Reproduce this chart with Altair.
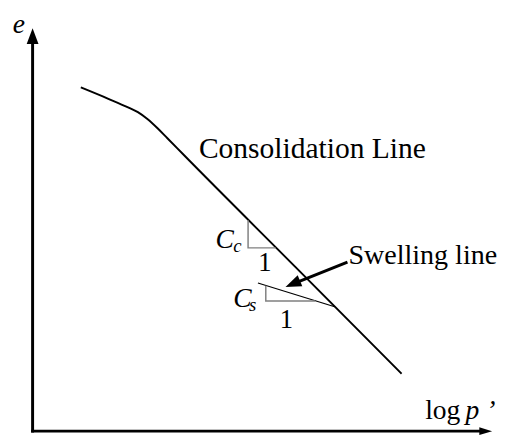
import altair as alt
import pandas as pd

# Schematic e - log p' diagram; values in diagram units
curve_x = [82, 110, 130, 140, 150, 160, 170, 187, 300, 408]
curve_y = [83, 95, 104, 109, 116.5, 126, 136.5, 154.5, 272, 384.5]
swell_x = [262, 340]
swell_y = [289, 314]
cc_tri_x = [252, 252, 280]
cc_tri_y = [223, 252, 252]
cs_tri_x = [270, 270, 320]
cs_tri_y = [292, 308, 308]
arrow_x = [353, 299]
arrow_y = [267, 289.5]
yaxis_x = [33, 33]
yaxis_y = [446.5, 34]
xaxis_x = [31.5, 489]
xaxis_y = [445, 445]

FONT = "Liberation Serif"

X = alt.X("x:Q", scale=alt.Scale(domain=[8, 506], nice=False, zero=False), axis=None)
Y = alt.Y("y:Q", scale=alt.Scale(domain=[3, 446.5], nice=False, zero=False, reverse=True), axis=None)


def line(xs, ys, width, color="black"):
    df = pd.DataFrame({"x": xs, "y": ys, "o": list(range(len(xs)))})
    return alt.Chart(df).mark_line(color=color, strokeWidth=width, interpolate="monotone").encode(
        x=X, y=Y, order="o:Q")


def head(xc, yc, path, size, angle):
    df = pd.DataFrame({"x": [xc], "y": [yc]})
    return alt.Chart(df).mark_point(shape=path, size=size, angle=angle, filled=True,
                                    color="black", opacity=1, strokeWidth=0).encode(x=X, y=Y)


def text(txt, xc, yc, size, style="normal", align="left"):
    df = pd.DataFrame({"x": [xc], "y": [yc], "t": [txt]})
    return alt.Chart(df).mark_text(font=FONT, fontSize=size, fontStyle=style, align=align,
                                   baseline="alphabetic", color="black").encode(x=X, y=Y, text="t:N")


layers = [
    line(yaxis_x, yaxis_y, 3),
    line(xaxis_x, xaxis_y, 3),
    head(33, 29, "M0,-1L0.75,1L-0.75,1Z", 256, 0),
    head(493.5, 445, "M1,0L-1,-0.6L-1,0.6Z", 169, 0),
    line(curve_x, curve_y, 2),
    line(swell_x, swell_y, 1.3),
    line(cc_tri_x, cc_tri_y, 1.5, "#808080"),
    line(cs_tri_x, cs_tri_y, 1.5, "#808080"),
    line(arrow_x, arrow_y, 3),
    head(297.4, 289.9, "M1,0L-1,-0.75L-1,0.75Z", 256, 157),
    text("e", 19, 26, 28, "italic", "center"),
    text("Consolidation Line", 202, 157, 30),
    text("Swelling line", 354, 269, 28.5),
    text("log", 432, 432, 28),
    text("p", 473, 432, 28, "italic"),
    text("\u2019", 494, 432, 28, "italic"),
    text("C", 219, 252, 28, "italic"),
    text("c", 237, 256, 19, "italic"),
    text("1", 269, 276, 27, "normal", "center"),
    text("C", 237, 314, 28, "italic"),
    text("s", 253, 318, 19, "italic"),
    text("1", 291, 336, 27, "normal", "center"),
]

chart = alt.layer(*layers).properties(
    width=498, height=428, padding=0, autosize=alt.AutoSizeParams(type="none")
).configure_view(stroke=None)

chart.save("out.html", embed_options={"renderer": "svg", "actions": False})
